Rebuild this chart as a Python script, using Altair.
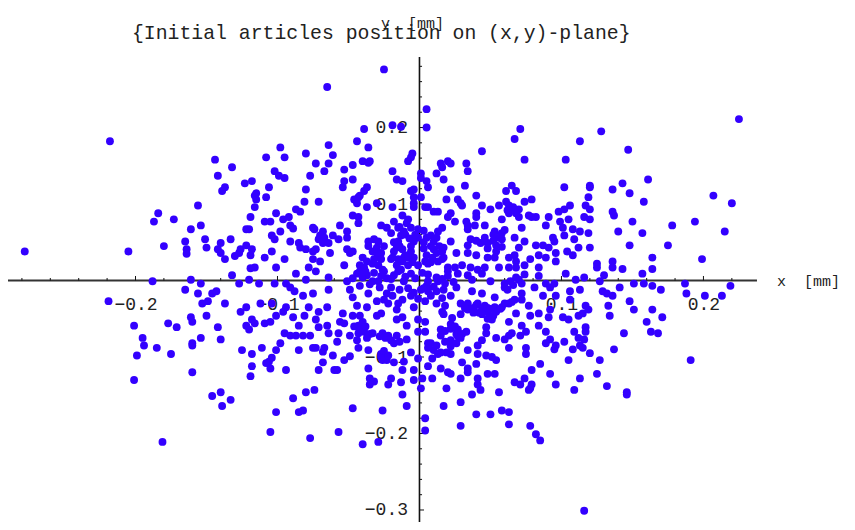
import altair as alt
import pandas as pd

# particle positions, (x, y) in micrometres, by quadrant of the picture
upper_left = [(-25,276),(-65,253),(-218,182),(-278,38),(-205,38),(-39,198),(-19,203),(-13,201),(5,224),(5,200),
(-98,174),(-64,177),(-44,182),(-36,174),(-144,158),(-132,148),(-108,161),(-95,161),(-80,166),(-61,164),
(-73,153),(-64,153),(-53,145),(-47,151),(-40,156),(-36,154),(-35,156),(-5,166),(-6,161),(-8,156),
(-142,137),(-102,143),(-99,137),(-95,134),(-77,137),(-67,143),(-19,143),(-16,132),(-12,130),(1,140),
(1,134),(5,130),(-123,127),(-118,130),(-137,122),(-139,117),(-106,122),(-80,119),(-53,130),(-54,122),
(-47,132),(-37,122),(-39,117),(-42,111),(-6,117),(-4,119),(-115,114),(-116,111),(-115,106),(-108,109),
(-46,106),(-44,101),(-43,109),(-81,103),(-71,103),(-30,101),(-37,96),(-19,96),(-4,109),(1,109),
(-4,101),(4,96),(-4,96),(-156,98),(-116,96),(-87,93),(-84,90),(-184,88),(-101,88),(-187,77),
(-173,80),(-119,83),(-109,77),(-105,77),(-96,80),(-92,83),(-47,85),(-43,83),(-43,75),(-12,85),
(-8,80),(-161,67),(-154,72),(-122,67),(-120,67),(-98,64),(-91,72),(-89,68),(-56,72),(-75,69),
(-74,67),(-51,64),(-27,72),(-23,69),(-18,77),(-15,69),(-9,75),(-6,69),(-151,54),(-133,54),
(-104,59),(-102,54),(-68,64),(-70,59),(-67,56),(-61,59),(-57,54),(-51,56),(-71,54),(-36,51),
(-32,54),(-29,51),(-13,59),(-11,64),(-1,67),(-1,56),(-4,54),(-15,51),(-165,51),(-140,49),
(-122,46),(-91,51),(-85,49),(-84,43),(-64,49),(-68,49),(-51,41),(-49,36),(-47,38),(-30,43),
(-27,36),(-16,43),(-12,41),(-6,38),(-18,38),(-4,51),(5,56),(-150,43),(-180,45),(-164,41),
(-164,35),(-142,41),(-140,36),(-126,41),(-130,32),(-127,36),(-118,41),(-119,33),(-104,38),(-109,30),
(-95,28),(-80,41),(-75,38),(-73,41),(-75,28),(-70,25),(-63,36),(-53,20),(-40,30),(-37,25),
(-33,22),(-27,28),(-19,30),(-15,28),(-11,30),(-4,30),(4,25),(-137,28),(-116,17),(-119,16),
(-101,17),(-78,17),(-42,20),(-39,17),(-29,20),(-16,20),(-8,20),(-1,20),
(-42,12),(-37,7),(-25,12),(-13,14),(-23,3),(-47,3)]

lower_left = [(-188,-1),(-161,1),(-154,-4),(-165,-12),(-156,-17),(-219,-27),(-153,-30),(-149,-27),(-146,-17),(-143,-14),
(-137,-30),(-132,7),(-127,-4),(-120,1),(-113,-4),(-102,-4),(-94,-4),(-91,-9),(-88,-14),(-87,9),
(-80,1),(-73,12),(-75,-17),(-82,-20),(-64,4),(-64,-12),(-51,-1),(-49,-12),(-47,-22),(-44,-33),
(-37,-35),(-36,-17),(-33,-1),(-40,4),(-29,-1),(-23,-17),(-30,-27),(-18,7),(-11,-1),(-6,9),
(-12,-25),(-16,-38),(-4,-35),(4,-27),(5,-7),(-126,-41),(-122,-35),(-112,-30),(-104,-30),(-101,-46),
(-96,-41),(-94,-35),(-89,-48),(-81,-46),(-78,-35),(-71,-41),(-65,-35),(-54,-43),(-56,-54),(-47,-46),
(-42,-46),(-30,-46),(-27,-43),(-16,-51),(-12,-48),(-9,-59),(-1,-51),(4,-54),(-161,-48),(-160,-54),
(-150,-46),(-177,-56),(-171,-61),(-201,-59),(-142,-61),(-122,-59),(-120,-64),(-118,-51),(-116,-56),(-109,-56),
(-105,-54),(-85,-59),(-73,-51),(-71,-61),(-65,-59),(-53,-56),(-43,-59),(-195,-75),(-154,-75),(-140,-77),
(-160,-82),(-160,-85),(-194,-85),(-185,-88),(-199,-98),(-175,-96),(-125,-91),(-118,-96),(-111,-88),(-101,-91),
(-98,-82),(-95,-69),(-91,-72),(-87,-72),(-82,-72),(-77,-72),(-85,-91),(-75,-88),(-73,-88),(-67,-88),
(-68,-93),(-61,-98),(-64,-69),(-57,-69),(-58,-80),(-49,-72),(-43,-69),(-39,-67),(-33,-69),(-26,-69),
(-22,-72),(-16,-72),(-18,-82),(-9,-77),(-1,-67),(4,-67),(6,-82),(-104,-101),(-106,-106),(-108,-108),
(-105,-115),(-118,-112),(-119,-125),(-94,-117),(-68,-107),(-71,-117),(-60,-117),(-58,-117),(-53,-104),(-49,-99),
(-43,-88),(-36,-91),(-27,-96),(-26,-104),(-23,-104),(-18,-107),(-11,-106),(-6,-94),(-1,-102),(6,-112),
(-36,-115),(-12,-117),(-4,-117),(-160,-120),(-201,-130),(-35,-128),(-32,-132),(-35,-136),(-20,-128),(-22,-136),
(-13,-133),(-4,-130),(2,-128),(1,-141),(-146,-151),(-140,-146),(-133,-156),(-139,-164),(-89,-154),(-80,-146),
(-74,-143),(-12,-149),(-9,-164),(-101,-172),(-85,-172),(-82,-170),(-47,-167),(-26,-170),(4,-180),(4,-196),
(-105,-198),(-77,-206),(-57,-198),(-181,-211),(-40,-214),(-29,-211)]

upper_right = [(71,198),(67,185),(44,169),(74,158),(113,182),(128,195),(103,158),(147,171),(225,211),(15,153),
(20,156),(16,148),(22,153),(33,153),(34,143),(12,140),(17,132),(6,122),(22,119),(32,124),
(40,111),(65,124),(61,117),(68,117),(102,122),(120,124),(120,122),(136,119),(143,127),(148,114),
(161,132),(119,109),(19,106),(27,106),(29,101),(30,98),(44,98),(50,93),(56,98),(61,103),
(63,98),(74,103),(79,106),(64,93),(70,93),(158,103),(207,111),(220,101),(6,96),(10,90),
(13,90),(22,88),(20,83),(25,77),(40,88),(40,83),(33,77),(34,72),(39,72),(46,72),
(58,80),(63,88),(70,83),(77,85),(79,83),(82,83),(91,83),(89,72),(98,90),(102,93),
(106,98),(117,98),(120,93),(99,77),(105,80),(101,69),(116,83),(120,80),(136,90),(137,85),
(150,77),(178,72),(194,77),(72,69),(53,64),(58,62),(56,56),(58,54),(67,56),(74,51),
(16,69),(13,64),(8,59),(12,56),(10,51),(22,51),(34,67),(36,54),(43,49),(48,49),
(54,46),(34,46),(108,67),(113,64),(119,62),(102,59),(109,54),(140,64),(157,62),(215,64),
(94,56),(95,51),(82,46),(87,46),(91,43),(112,43),(120,43),(148,46),(175,46),(70,43),
(67,33),(10,41),(17,43),(16,38),(26,36),(34,36),(40,33),(48,30),(53,30),(63,30),
(68,25),(78,28),(84,33),(89,30),(96,36),(96,25),(104,38),(108,33),(164,30),(199,28),
(125,22),(136,25),(125,17),(136,17),(143,15),(164,15),(84,17),(17,30),(13,25),(6,22),
(20,17),(25,17),(30,20),(36,17),(46,17),(56,17),(63,17),(68,17),(74,20),
(20,12),(27,9),(34,7),(41,14)]

lower_right = [(103,9),(157,9),(130,7),(116,4),(110,1),(151,-4),(158,-4),(164,-7),(170,-12),(187,-4),
(188,-17),(201,-20),(213,-20),(219,-7),(84,6),(81,-9),(70,1),(64,-1),(60,-9),(50,-1),
(44,9),(37,1),(26,-9),(13,-1),(6,-1),(6,-14),(12,-14),(16,-23),(22,-20),(127,-1),
(129,-14),(132,-17),(136,-20),(141,-9),(89,-4),(92,-9),(95,-4),(96,-20),(87,-20),(106,-14),
(106,-25),(113,-12),(53,-22),(44,-17),(37,-14),(29,-30),(34,-30),(41,-30),(46,-33),(53,-35),
(58,-35),(63,-30),(67,-25),(72,-17),(77,-33),(84,-43),(78,-46),(92,-38),(91,-48),(101,-48),
(105,-51),(112,-46),(117,-33),(119,-38),(115,-43),(133,-33),(134,-46),(148,-27),(151,-38),(164,-38),
(171,-48),(160,-54),(163,-67),(168,-69),(144,-69),(137,-90),(117,-61),(117,-67),(109,-67),(112,-75),
(116,-77),(113,-85),(108,-90),(115,-88),(102,-80),(89,-67),(92,-77),(89,-82),(96,-85),(95,-90),
(84,-59),(72,-59),(75,-67),(71,-72),(65,-69),(63,-72),(60,-77),(54,-75),(63,-54),(68,-43),
(63,-88),(75,-88),(75,-96),(120,-95),(127,-104),(105,-104),(85,-109),(79,-117),(92,-122),(125,-122),
(113,-128),(96,-136),(109,-143),(132,-138),(146,-146),(146,-149),(191,-104),(74,-128),(67,-133),(71,-136),
(79,-136),(78,-141),(77,-143),(56,-146),(37,-149),(43,-143),(41,-128),(41,-136),(48,-122),(53,-122),
(29,-159),(17,-164),(40,-175),(50,-175),(58,-170),(63,-172),(63,-188),(78,-190),(82,-201),(85,-209),
(29,-190),(116,-301),(29,-128),(30,-107),(34,-115),(34,-120),(40,-109),(15,-115),(20,-120),(22,-122),
(9,-128),(19,-141),(16,-41),(17,-44),(23,-49),(22,-57),(15,-64),(26,-70),(33,-67),(30,-70),
(27,-73),(22,-78),(22,-86),(19,-94),(15,-94),(10,-91),(8,-82),(6,-88),(9,-102),(34,-91),
(47,-61),(47,-69),(44,-78),(41,-85),(41,-96),(47,-98),(51,-100),(54,-104),(29,-44),(40,-32),
(34,-38),(48,-41),(54,-41),(50,-47),(51,-51)]

# points estimated inside the dense blobs near the centre
central_blobs = [(-46,-60),(-42,-65),(-38,-60),(-37,-75),(-44,-78),(-40,-54),(-35,-70),
(-44,9),(-38,12),(-32,10),(-27,6),(-20,2),(-15,12),(-10,5),(-3,3),(2,10),(-35,-5),(-42,-7),(-28,-9),(-20,-9),
(-14,-12),(-8,-10),(-4,-16),(1,-12),(-26,14),(-25,-25),(-19,-20),(-15,-30),(-6,-20),(-1,-24),(-22,-30),
(-24,-75),(-20,-78),(-14,-80),(-28,-73),(-27,-100),(-25,-92),(-22,-98),
(32,-36),(38,-36),(44,-38),(44,-44),(48,-36),(50,-37),(52,-46),(57,-37),(42,-42),(48,-50),(38,-42),
(18,-66),(22,-63),(27,-64),(29,-75),(25,-60),(15,-72),(18,-80),(12,-85),(13,-96),(22,-96),(26,-82),
(6,8),(12,4),(18,-4),(10,-8),(17,-12),(20,6),(24,-2),(16,2),(3,-10),(8,-20),(12,-30),(18,-33),
(60,-4),(66,-6),(72,-4),(62,-12),(68,4),(74,8),(60,-30),(65,-28),(72,-25),
(-20,62),(-14,70),(-10,60),(-7,55),(-14,45),(-10,33),(-18,50),(-20,28),(-6,45),(-3,60),(-8,30),(-12,25),(-5,24),
(-36,45),(-33,38),(-28,30),(-32,28),(-25,45),(-30,36),
(8,45),(12,36),(5,33),(9,30),(14,45),(8,24),(16,28),(3,42),(3,50),(3,65),
(40,52),(46,56),(52,52),(58,44),(54,38),(48,42),(52,60),(60,66),(62,92),(66,96),(68,88)]

x_major = [-0.2, -0.1, 0.1, 0.2]
y_major = [-0.3, -0.2, -0.1, 0.1, 0.2]
x_minor = [-0.28, -0.26, -0.24, -0.22, -0.18, -0.16, -0.14, -0.12, -0.08, -0.06, -0.04, -0.02,
           0.02, 0.04, 0.06, 0.08, 0.12, 0.14, 0.16, 0.18, 0.22]
y_minor = [-0.28, -0.26, -0.24, -0.22, -0.18, -0.16, -0.14, -0.12, -0.08, -0.06, -0.04, -0.02,
           0.02, 0.04, 0.06, 0.08, 0.12, 0.14, 0.16, 0.18, 0.22, 0.24, 0.26, 0.28]

all_points = upper_left + lower_left + upper_right + lower_right + central_blobs
pts = pd.DataFrame({"x": [p[0] / 1000 for p in all_points], "y": [p[1] / 1000 for p in all_points]})
xs = alt.Scale(domain=[-0.2898, 0.3011], nice=False, zero=False)
ys = alt.Scale(domain=[-0.3157, 0.2922], nice=False, zero=False)
FONT = "Liberation Mono"
INK = "#222222"

axx = alt.Axis(values=x_major, format=".1f", title=None, grid=False, domain=False, ticks=False,
               offset=-241.5, labelPadding=15, labelFont=FONT, labelFontSize=18, labelColor=INK,
               labelExpr="replace(datum.label, '-', '\u2212')", labelFlush=False, labelOverlap=False)
axy = alt.Axis(values=y_major, format=".1f", title=None, grid=False, domain=False, ticks=False,
               offset=-411.5, labelPadding=12, labelFont=FONT, labelFontSize=18, labelColor=INK,
               labelExpr="replace(datum.label, '-', '\u2212')", labelFlush=False, labelOverlap=False)

points = alt.Chart(pts).mark_circle(size=62, color="#3300FF", opacity=1).encode(
    x=alt.X("x:Q", scale=xs, axis=axx), y=alt.Y("y:Q", scale=ys, axis=axy))

def hticks(values, length):
    d = pd.DataFrame({"x": values, "y": [0.0] * len(values), "y2": [length] * len(values)})
    return alt.Chart(d).mark_rule(color="#111111", strokeWidth=1).encode(
        x=alt.X("x:Q", scale=xs), y=alt.Y("y:Q", scale=ys), y2="y2:Q")

def vticks(values, length):
    d = pd.DataFrame({"y": values, "x": [0.0] * len(values), "x2": [length] * len(values)})
    return alt.Chart(d).mark_rule(color="#111111", strokeWidth=1).encode(
        y=alt.Y("y:Q", scale=ys), x=alt.X("x:Q", scale=xs), x2="x2:Q")

xline = alt.Chart(pd.DataFrame({"x": [-0.2898], "x2": [0.2377], "y": [0.0]})).mark_rule(
    color="#333333", strokeWidth=2).encode(x=alt.X("x:Q", scale=xs), x2="x2:Q", y=alt.Y("y:Q", scale=ys))
yline = alt.Chart(pd.DataFrame({"y": [-0.3157], "y2": [0.2922], "x": [0.0]})).mark_rule(
    color="#111111", strokeWidth=1.6).encode(y=alt.Y("y:Q", scale=ys), y2="y2:Q", x=alt.X("x:Q", scale=xs))

xlab = alt.Chart(pd.DataFrame({"x": [0.2518], "y": [0.0], "t": ["x\u00a0\u00a0[mm]"]})).mark_text(
    font=FONT, fontSize=15, align="left", baseline="middle", color=INK).encode(
    x=alt.X("x:Q", scale=xs), y=alt.Y("y:Q", scale=ys), text="t:N")
ylab = alt.Chart(pd.DataFrame({"x": [-0.0271], "y": [0.337], "t": ["y\u00a0\u00a0[mm]"]})).mark_text(
    font=FONT, fontSize=15, align="left", baseline="middle", color=INK).encode(
    x=alt.X("x:Q", scale=xs), y=alt.Y("y:Q", scale=ys), text="t:N")

chart = alt.layer(
    xline, yline,
    hticks(x_minor, 0.0033), hticks(x_major, 0.0059),
    vticks(y_minor, 0.0018), vticks(y_major, 0.0032),
    points, xlab, ylab,
).properties(
    width=839, height=465,
    title=alt.Title("{Initial articles position on (x,y)-plane}", font=FONT, fontSize=19.8,
                    fontWeight="normal", color=INK, anchor="start", offset=-27, dx=124, frame="group"),
    padding={"left": 0, "top": 49, "right": 0, "bottom": 0},
    autosize=alt.AutoSizeParams(type="none"),
    background="#FFFFFF",
).configure_view(stroke=None)

chart.save("out.html", embed_options={"renderer": "svg", "actions": False})
